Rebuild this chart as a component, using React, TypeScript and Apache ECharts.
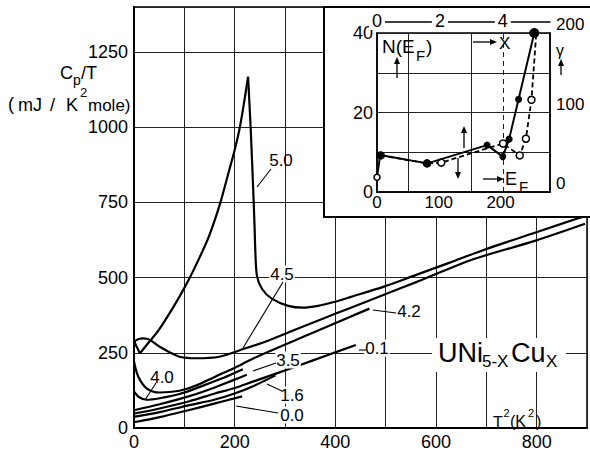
import React, { useEffect, useRef } from "react";
import * as echarts from "echarts";

const FONT = '"Liberation Sans", Arial, Helvetica, sans-serif';

// ---- main panel: Cp/T (mJ/K^2 mole) versus T^2 (K^2), one list per Cu content ----
const x50Low = [[0, 291], [3.9, 275], [7.9, 262], [11.8, 248]];
const x50Rise = [[11.8, 248], [27.5, 281], [47.2, 321], [66.8, 371], [90.4, 437], [110, 497], [129.7, 565], [149.3, 639], [171, 746], [188.6, 854], [200.4, 927], [209.7, 995], [218.1, 1076], [226.6, 1168]];
const x50Fall = [[226.6, 1168], [231.9, 993], [236.8, 794], [239.7, 662], [241.1, 586], [244.3, 506], [254.1, 463], [273.7, 430], [306.5, 406], [336, 400], [365.5, 406], [395, 418], [430.9, 436], [496.6, 470], [562, 510], [627.4, 550], [696.2, 593], [797.8, 650], [876.4, 694], [900, 707]];
const x45 = [[0, 287], [7.9, 295], [18.3, 298], [31.4, 293], [51.1, 270], [70.7, 252], [90.4, 237], [123.2, 232], [169, 237], [221.5, 265], [260.8, 287], [326.2, 331], [378.7, 366], [430.9, 400], [496.6, 443], [562, 486], [660.2, 553], [696.2, 573], [797.8, 623], [896.1, 679]];
const x42 = [[0, 221], [8.4, 171], [25, 132], [51.1, 118], [90.4, 124], [123.2, 141], [159.2, 169], [198.5, 199], [237.8, 232], [351.7, 314], [467.7, 397]];
const x40 = [[0, 122], [9.8, 103], [25, 94], [51.1, 99], [90.4, 113], [129.7, 136], [169, 161], [198.5, 182], [216.2, 195]];
const x35 = [[0, 59], [51.1, 79], [110, 106], [159.2, 134], [198.5, 160], [224, 177]];
const x01 = [[0, 48], [51.1, 65], [110, 89], [159.2, 114], [198.5, 132], [237.8, 155], [326.2, 207], [385.2, 243], [440.8, 276]];
const x16 = [[0, 37], [51.1, 53], [110, 76], [159.2, 94], [198.5, 114], [237.8, 140], [281, 175]];
const x00 = [[0, 19], [51.1, 36], [110, 60], [159.2, 81], [214.8, 105]];

const T2_MAX = 900;
const T2_STEP = 100;
const T2_LABEL_STEP = 200;
const CP_MAX = 1400;
const CP_STEP = 250;

// ---- inset: N(E_F) versus x (solid) and gamma versus E_F (dashed) ----
const insetX = [0, 0.1, 1.6, 3.5, 4.0, 4.2, 4.5, 5.0];
const insetN = [3.7, 9.3, 7.2, 11.8, 8.9, 13.3, 23.3, 40];
const insetEF = [6, 81, 104, 204, 231, 241, 250, 258];
const insetGamma = [46, 36, 37, 61, 46, 67, 116, 202];
const insetXGrid = [1, 3];
const insetXDashed = [4];

function arrow(x1: number, y1: number, x2: number, y2: number, head = 7, w = 3) {
  const dx = x2 - x1, dy = y2 - y1;
  const L = Math.hypot(dx, dy);
  const ux = dx / L, uy = dy / L;
  const bx = x2 - ux * head, by = y2 - uy * head;
  return [
    { type: "line", z: 20, shape: { x1, y1, x2: bx, y2: by }, style: { stroke: "#000", lineWidth: 1.3 } },
    { type: "polygon", z: 20, shape: { points: [[x2, y2], [bx - uy * w, by + ux * w], [bx + uy * w, by - ux * w]] }, style: { fill: "#000" } },
  ];
}

function txt(text: string, x: number, y: number, size = 17, align = "left", bg?: string) {
  const style: any = { text, fontSize: size, fontFamily: FONT, fill: "#000", align, verticalAlign: "middle" };
  if (bg) { style.backgroundColor = bg; style.padding = [0, 1]; }
  return { type: "text", z: 20, x, y, style };
}

function seg(x1: number, y1: number, x2: number, y2: number, w = 1.1) {
  return { type: "line", z: 20, shape: { x1, y1, x2, y2 }, style: { stroke: "#000", lineWidth: w } };
}

export default function App() {
  const ref = useRef<HTMLDivElement>(null);
  useEffect(() => {
    if (!ref.current) return;
    const chart = echarts.init(ref.current, undefined, { renderer: "svg" });
    const mainLine = (name: string, data: number[][]) => ({
      type: "line", name, data, xAxisIndex: 0, yAxisIndex: 0, smooth: 0.3,
      showSymbol: false, symbol: "none", silent: true, z: 2,
      lineStyle: { color: "#000", width: 2.2 },
    });
    const axisLbl = (size: number) => ({ color: "#000", fontSize: size, fontFamily: FONT });

    const insetA = insetX.map((x, i) => {
      const item: any = { value: [x, insetN[i]] };
      if (i === 0) { item.symbol = "circle"; item.itemStyle = { color: "#fff", borderColor: "#000", borderWidth: 1.5 }; item.symbolSize = 6; }
      if (i === insetX.length - 1) item.symbolSize = 10;
      return item;
    });
    const insetB = insetEF.map((e, i) => [e, insetGamma[i]]);

    const graphic: any[] = [
      { type: "rect", z: 5, shape: { x: 324, y: 7, width: 275, height: 210 }, style: { fill: "#fff", stroke: "#000", lineWidth: 2 } },
      // white patch behind the compound name
      { type: "rect", z: 3, shape: { x: 432, y: 338, width: 134, height: 34 }, style: { fill: "#fff" } },
      // y-axis title
      txt("C", 60, 73, 18), txt("p", 73, 80, 14), txt("/T", 81, 73, 18),
      txt("(", 8, 104, 18), txt("mJ", 18, 105, 18), txt("/", 50, 105, 18), txt("K", 66, 105, 18),
      txt("2", 80, 92, 13), txt("mole)", 88, 105, 17),
      // x-axis title
      txt("T", 493, 422, 16), txt("2", 503.5, 413, 11), txt("(K", 510, 421, 16), txt("2", 528, 413, 11), txt(")", 536, 421, 16),
      // compound name
      txt("UNi", 438, 353, 27), txt("5-X", 482, 361, 17), txt("Cu", 511, 353, 27), txt("X", 546, 361, 17),
      // curve labels and pointers
      txt("5.0", 281, 160, 17, "center"), seg(257, 187, 271, 169),
      txt("4.5", 282, 274, 17, "center", "#fff"), seg(283, 282, 243, 348),
      txt("4.2", 409, 311, 17, "center", "#fff"), seg(373, 310, 396, 313),
      txt("4.0", 162, 377, 17, "center"), seg(156, 383, 145, 400),
      txt("3.5", 288, 360, 17, "center", "#fff"), seg(253, 371, 276, 363),
      txt("1.6", 292, 395, 17, "center", "#fff"), seg(267, 384, 282, 391),
      txt("0.0", 292, 415, 17, "center", "#fff"), seg(236, 406, 278, 413),
      txt("0.1", 377, 348, 17, "center", "#fff"), seg(359, 350, 366, 350),
      // inset annotations
      txt("N(E", 382, 46, 19), txt("F", 416, 55, 15), txt(")", 426, 46, 19),
      ...arrow(397, 78, 397, 57),
      ...arrow(473, 42, 497, 42), txt("X", 499, 43, 17),
      txt("γ", 560, 50, 16, "center"),
      ...arrow(561, 75, 561, 59),
      ...arrow(483, 179, 504, 179), txt("E", 505, 179, 18), txt("F", 519, 186, 15),
      ...arrow(464, 148, 464, 126),
      ...arrow(458, 158, 458, 179),
    ];

    chart.setOption({
      animation: false,
      backgroundColor: "#fff",
      grid: [
        { left: 134, right: -2, top: 7, bottom: 21, show: true, borderColor: "#000", borderWidth: 1.5, backgroundColor: "transparent" },
        { left: 377, top: 33, width: 173, height: 159, show: true, borderColor: "#000", borderWidth: 1.5, backgroundColor: "transparent", z: 6 },
      ],
      xAxis: [
        {
          type: "value", gridIndex: 0, min: 0, max: T2_MAX, interval: T2_STEP,
          axisLine: { show: true, onZero: false, lineStyle: { color: "#000", width: 2 } },
          axisTick: { show: false },
          axisLabel: { ...axisLbl(18), margin: 5, formatter: (v: number) => (v % T2_LABEL_STEP === 0 && v < T2_MAX ? String(v) : "") },
          splitLine: { show: true, lineStyle: { color: "#222", width: 1 } },
        },
        {
          type: "value", gridIndex: 1, min: 0, max: 280, interval: 100, position: "bottom", z: 6,
          axisLine: { show: true, onZero: false, lineStyle: { color: "#000", width: 1.5 } },
          axisTick: { show: false },
          axisLabel: { ...axisLbl(17), margin: 2, formatter: (v: number) => (v % 100 === 0 && v <= 200 ? String(v) : "") },
          splitLine: { show: false },
        },
        {
          type: "value", gridIndex: 1, min: 0, max: 5.5, interval: 2, position: "top", offset: 11, z: 7,
          axisLine: { show: true, onZero: false, lineStyle: { color: "#000", width: 1.5 } },
          axisTick: { show: false },
          axisLabel: { ...axisLbl(18), margin: -8, backgroundColor: "#fff", padding: [0, 3], formatter: (v: number) => (v % 2 === 0 && v <= 4 ? String(v) : "") },
          splitLine: { show: false },
        },
      ],
      yAxis: [
        {
          type: "value", gridIndex: 0, min: 0, max: CP_MAX, interval: CP_STEP,
          axisLine: { show: true, onZero: false, lineStyle: { color: "#000", width: 2 } },
          axisTick: { show: false },
          axisLabel: { ...axisLbl(18), margin: 6, formatter: (v: number) => (v % CP_STEP === 0 ? String(v) : "") },
          splitLine: { show: true, lineStyle: { color: "#222", width: 1 } },
        },
        {
          type: "value", gridIndex: 1, min: 0, max: 40, interval: 10, position: "left", z: 6,
          axisLine: { show: true, onZero: false, lineStyle: { color: "#000", width: 1.5 } },
          axisTick: { show: false },
          axisLabel: { ...axisLbl(18), margin: 4, formatter: (v: number) => (v % 20 === 0 ? String(v) : "") },
          splitLine: { show: true, lineStyle: { color: "#222", width: 1 } },
        },
        {
          type: "value", gridIndex: 1, min: 0, max: 200, interval: 100, position: "right", z: 6,
          axisLine: { show: true, onZero: false, lineStyle: { color: "#000", width: 1.5 } },
          axisTick: { show: false },
          axisLabel: { ...axisLbl(17), margin: 6, verticalAlign: "bottom" },
          splitLine: { show: false },
        },
      ],
      graphic,
      series: [
        mainLine("5.0a", x50Low),
        mainLine("5.0b", x50Rise),
        mainLine("5.0c", x50Fall),
        mainLine("4.5", x45),
        mainLine("4.2", x42),
        mainLine("4.0", x40),
        mainLine("3.5", x35),
        mainLine("0.1", x01),
        mainLine("1.6", x16),
        mainLine("0.0", x00),
        {
          type: "line", xAxisIndex: 2, yAxisIndex: 1, data: [], z: 7, silent: true,
          markLine: {
            silent: true, symbol: ["none", "none"], label: { show: false },
            lineStyle: { color: "#222", width: 1, type: "solid" },
            data: [
              ...insetXGrid.map((v) => ({ xAxis: v })),
              ...insetXDashed.map((v) => ({ xAxis: v, lineStyle: { type: [5, 4], color: "#222", width: 1 } })),
            ],
          },
        },
        {
          type: "line", xAxisIndex: 1, yAxisIndex: 2, data: insetB, z: 8, silent: true,
          symbol: "circle", symbolSize: 7,
          itemStyle: { color: "#fff", borderColor: "#000", borderWidth: 1.5 },
          lineStyle: { color: "#000", width: 1.8, type: [5, 3] },
        },
        {
          type: "line", xAxisIndex: 2, yAxisIndex: 1, data: insetA, z: 9, silent: true,
          symbol: "circle", symbolSize: 7,
          itemStyle: { color: "#000" },
          lineStyle: { color: "#000", width: 2 },
        },
      ],
    });
    return () => chart.dispose();
  }, []);
  return <div ref={ref} style={{ position: "fixed", left: 0, top: 0, width: 590, height: 451, background: "#fff" }} />;
}
